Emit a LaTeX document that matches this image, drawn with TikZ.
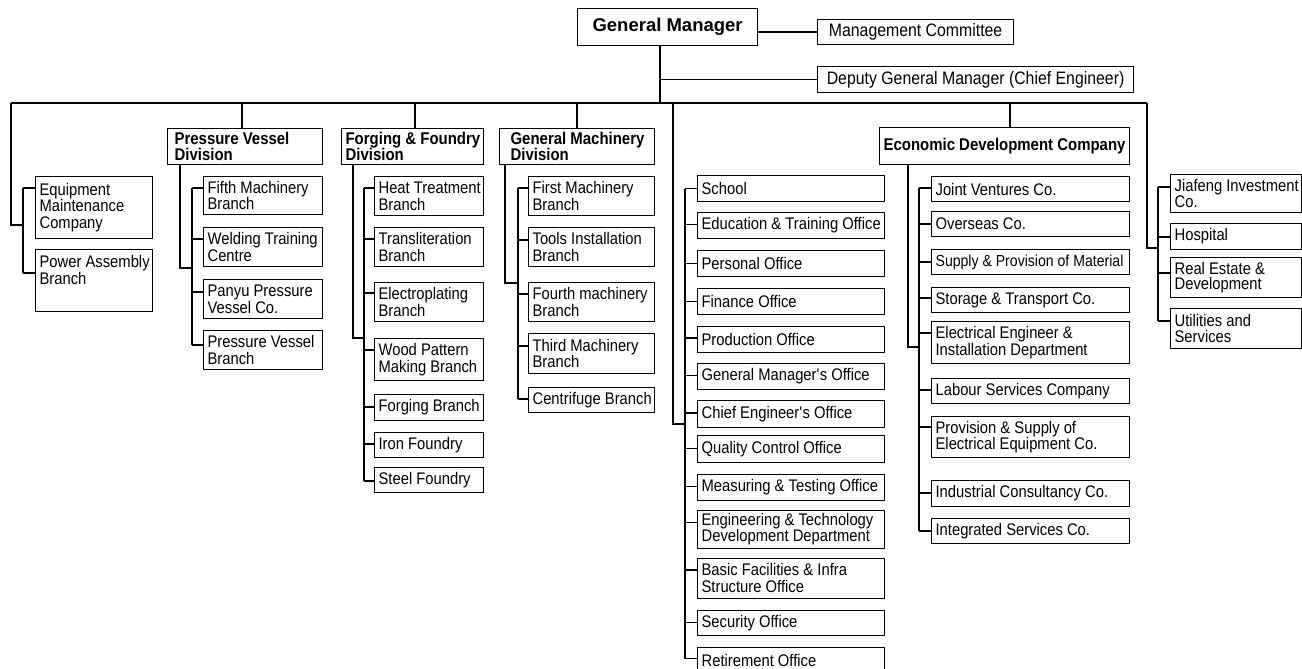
\documentclass[tikz,border=0pt]{standalone}
\usepackage{fontspec}
\setmainfont{Liberation Sans}[FakeStretch=0.88]
\newfontfamily\ocgmfont{Liberation Sans}
\newcommand\ocreg{\fontsize{16.8}{16.5}\selectfont}
\newcommand\ocbld{\fontsize{17}{15.5}\selectfont\bfseries}
\newcommand\octb[3][0pt]{\hbox to #2{\kern#1\vbox{\lineskiplimit=-100pt\let\\\cr\halign{##\hfil\cr#3\crcr}}\hss}}
\newcommand\ocstub[3]{\draw ([yshift=-#2pt]#1.north west) -- ++(-#3,0);}
\newcommand\ocspine[5]{\draw ([shift={(-#5pt,-#2pt)}]#1.north west) -- ([shift={(-#5pt,-#4pt)}]#3.north west);}
\tikzset{
  bx/.style={draw, anchor=north west, inner xsep=4pt, inner ysep=0pt, font=\ocreg},
  dv/.style={bx, font=\ocbld},
  top/.style={draw, anchor=north west, inner sep=0pt},
}
\begin{document}
\begin{tikzpicture}[x=1pt,y=-1pt,line width=1.2pt]
\useasboundingbox (0,0) rectangle (1302,669);

% top level
\node[top, minimum width=180, minimum height=37, font=\ocgmfont\fontsize{18.5}{20}\selectfont\bfseries] (gm) at (577,8) {General Manager};
\node[top, minimum width=196, minimum height=25, font=\fontsize{18}{20}\selectfont] (mc) at (817,19) {Management Committee};
\node[top, minimum width=316, minimum height=26, font=\fontsize{18}{20}\selectfont] (dgm) at (817,66) {Deputy General Manager (Chief Engineer)};

% divisions
\node[dv, minimum height=36] (pvd) at (167,128) {\octb[3pt]{147pt}{Pressure Vessel\\Division}};
\node[dv, minimum height=36] (ffd) at (341,128) {\octb{134pt}{Forging \& Foundry\\Division}};
\node[dv, minimum height=36] (gmd) at (499,128) {\octb[7pt]{147pt}{General Machinery\\Division}};
\node[dv, minimum height=37] (edc) at (879,127) {\octb{242pt}{Economic Development Company}};

% column A
\node[bx, minimum height=62] (emc) at (35,176) {\octb{109pt}{Equipment\\Maintenance\\Company}};
\node[bx, minimum height=62] (pab) at (35,249) {\octb{109pt}{Power Assembly\\Branch\\\strut}};

% column B
\node[bx, minimum height=38] (fifth) at (203,176) {\octb{111pt}{Fifth Machinery\\Branch}};
\node[bx, minimum height=39] (weld) at (203,227) {\octb{111pt}{Welding Training\\Centre}};
\node[bx, minimum height=39] (panyu) at (203,279) {\octb{111pt}{Panyu Pressure\\Vessel Co.}};
\node[bx, minimum height=39] (pvb) at (203,330) {\octb{111pt}{Pressure Vessel\\Branch}};

% column C
\node[bx, minimum height=39] (heat) at (374,176) {\octb{101pt}{Heat Treatment\\Branch}};
\node[bx, minimum height=39] (trans) at (374,227) {\octb{101pt}{Transliteration\\Branch}};
\node[bx, minimum height=39] (elec) at (374,282) {\octb{101pt}{Electroplating\\Branch}};
\node[bx, minimum height=42] (wood) at (374,338) {\octb{101pt}{Wood Pattern\\Making Branch}};
\node[bx, minimum height=26] (forg) at (374,394) {\octb{101pt}{Forging Branch}};
\node[bx, minimum height=25] (iron) at (374,432) {\octb{101pt}{Iron Foundry}};
\node[bx, minimum height=25] (steel) at (374,467) {\octb{101pt}{Steel Foundry}};

% column D
\node[bx, minimum height=39] (first) at (528,176) {\octb{118pt}{First Machinery\\Branch}};
\node[bx, minimum height=39] (tools) at (528,227) {\octb{118pt}{Tools Installation\\Branch}};
\node[bx, minimum height=39] (fourth) at (528,282) {\octb{118pt}{Fourth machinery\\Branch}};
\node[bx, minimum height=40] (third) at (528,333) {\octb{118pt}{Third Machinery\\Branch}};
\node[bx, minimum height=25] (centri) at (528,387) {\octb{118pt}{Centrifuge Branch}};

% column E
\node[bx, minimum height=26] (school) at (697,175) {\octb{179pt}{School}};
\node[bx, minimum height=26] (edu) at (697,211.5) {\octb{179pt}{Education \& Training Office}};
\node[bx, minimum height=26] (pers) at (697,250) {\octb{179pt}{Personal Office}};
\node[bx, minimum height=26] (fin) at (697,288) {\octb{179pt}{Finance Office}};
\node[bx, minimum height=26] (prod) at (697,325.5) {\octb{179pt}{Production Office}};
\node[bx, minimum height=26.5] (gmo) at (697,362.5) {\octb{179pt}{General Manager\textquotesingle s Office}};
\node[bx, minimum height=26.5] (ceo) at (697,400) {\octb{179pt}{Chief Engineer\textquotesingle s Office}};
\node[bx, minimum height=26.5] (qco) at (697,435) {\octb{179pt}{Quality Control Office}};
\node[bx, minimum height=25.5] (mto) at (697,474) {\octb{179pt}{Measuring \& Testing Office}};
\node[bx, minimum height=38] (eng) at (697,509.5) {\octb{179pt}{Engineering \& Technology\\Development Department}};
\node[bx, minimum height=40] (basic) at (697,557.5) {\octb{179pt}{Basic Facilities \& Infra\\Structure Office}};
\node[bx, minimum height=25.5] (sec) at (697,609.5) {\octb{179pt}{Security Office}};
\node[bx, minimum height=26] (ret) at (697,647) {\octb{179pt}{Retirement Office}};

% column F
\node[bx, minimum height=25] (jv) at (931,176) {\octb{190pt}{Joint Ventures Co.}};
\node[bx, minimum height=25] (ovs) at (931,211) {\octb{190pt}{Overseas Co.}};
\node[bx, minimum height=25] (sup) at (931,249) {\fontsize{16}{16.5}\selectfont\octb{190pt}{Supply \& Provision of Material}};
\node[bx, minimum height=25] (sto) at (931,287) {\octb{190pt}{Storage \& Transport Co.}};
\node[bx, minimum height=42] (eei) at (931,321) {\octb{190pt}{Electrical Engineer \&\\Installation Department}};
\node[bx, minimum height=25] (lab) at (931,378) {\octb{190pt}{Labour Services Company}};
\node[bx, minimum height=41] (pse) at (931,416) {\octb{190pt}{Provision \& Supply of\\Electrical Equipment Co.}};
\node[bx, minimum height=26] (ind) at (931,480) {\octb{190pt}{Industrial Consultancy Co.}};
\node[bx, minimum height=25] (integ) at (931,518) {\octb{190pt}{Integrated Services Co.}};

% column G
\node[bx, minimum height=38] (jia) at (1170,174) {\octb{123pt}{Jiafeng Investment\\Co.}};
\node[bx, minimum height=26] (hosp) at (1170,223) {\octb{123pt}{Hospital}};
\node[bx, minimum height=40] (real) at (1170,257) {\baselineskip=14.5pt\octb{123pt}{Real Estate \&\\Development}};
\node[bx, minimum height=40] (util) at (1170,308) {\octb{123pt}{Utilities and\\Services}};

% ---- connectors ----
\coordinate (busL) at (11,103);
\coordinate (busR) at (1147,103);
\path ([xshift=83pt]gm.south west) coordinate (tk);
\draw (gm.east |- mc.west) -- (mc.west);
\draw (tk) -- (tk |- busL);
\draw (tk |- dgm.west) -- (dgm.west);
\draw (busL) -- (busR);

\path ([xshift=75pt]pvd.north west) coordinate (pvdT);
\path ([xshift=74pt]ffd.north west) coordinate (ffdT);
\path ([xshift=78pt]gmd.north west) coordinate (gmdT);
\path ([xshift=131pt]edc.north west) coordinate (edcT);
\draw (pvdT |- busL) -- (pvdT);
\draw (ffdT |- busL) -- (ffdT);
\draw (gmdT |- busL) -- (gmdT);
\draw (edcT |- busL) -- (edcT);

% group A
\coordinate (jA) at (23,225);
\draw (busL) |- (jA);
\ocspine{emc}{12}{pab}{24}{12}
\ocstub{emc}{12}{12}
\ocstub{pab}{24}{12}

% group B
\coordinate (jB) at (192,268);
\draw ([xshift=13pt]pvd.south west) |- (jB);
\ocspine{fifth}{12}{pvb}{15}{11}
\ocstub{fifth}{12}{11}
\ocstub{weld}{12}{11}
\ocstub{panyu}{13}{11}
\ocstub{pvb}{15}{11}

% group C
\coordinate (jC) at (364,338);
\draw ([xshift=12pt]ffd.south west) |- (jC);
\ocspine{heat}{12}{steel}{14}{10}
\ocstub{heat}{12}{10}
\ocstub{trans}{12}{10}
\ocstub{elec}{11}{10}
\ocstub{wood}{12}{10}
\ocstub{forg}{13}{10}
\ocstub{iron}{12}{10}
\ocstub{steel}{14}{10}

% group D
\coordinate (jD) at (518,283);
\draw ([xshift=6pt]gmd.south west) |- (jD);
\ocspine{first}{12}{centri}{12}{10}
\ocstub{first}{12}{10}
\ocstub{tools}{13}{10}
\ocstub{fourth}{12}{10}
\ocstub{third}{13}{10}
\ocstub{centri}{12}{10}

% group E
\coordinate (bE) at (673,103);
\coordinate (jE) at (685,424);
\draw (bE) |- (jE);
\ocspine{school}{13.5}{ret}{11.5}{12}
\ocstub{school}{13.5}{12}
\ocstub{edu}{13}{12}
\ocstub{pers}{13.5}{12}
\ocstub{fin}{13.5}{12}
\ocstub{prod}{12.5}{12}
\ocstub{gmo}{13}{12}
\ocstub{ceo}{13}{12}
\ocstub{qco}{13.5}{12}
\ocstub{mto}{12.5}{12}
\ocstub{eng}{13}{12}
\ocstub{basic}{12.5}{12}
\ocstub{sec}{13}{12}
\ocstub{ret}{11.5}{12}

% group F
\coordinate (jF) at (919,347);
\draw ([xshift=29pt]edc.south west) |- (jF);
\ocspine{jv}{12}{integ}{13}{12}
\ocstub{jv}{12}{12}
\ocstub{ovs}{13}{12}
\ocstub{sup}{13}{12}
\ocstub{sto}{11}{12}
\ocstub{eei}{12}{12}
\ocstub{lab}{12}{12}
\ocstub{pse}{11}{12}
\ocstub{ind}{13}{12}
\ocstub{integ}{13}{12}

% group G
\coordinate (jG) at (1158,248);
\draw (busR) |- (jG);
\ocspine{jia}{13}{util}{13}{12}
\ocstub{jia}{13}{12}
\ocstub{hosp}{14}{12}
\ocstub{real}{16}{12}
\ocstub{util}{13}{12}
\end{tikzpicture}
\end{document}
